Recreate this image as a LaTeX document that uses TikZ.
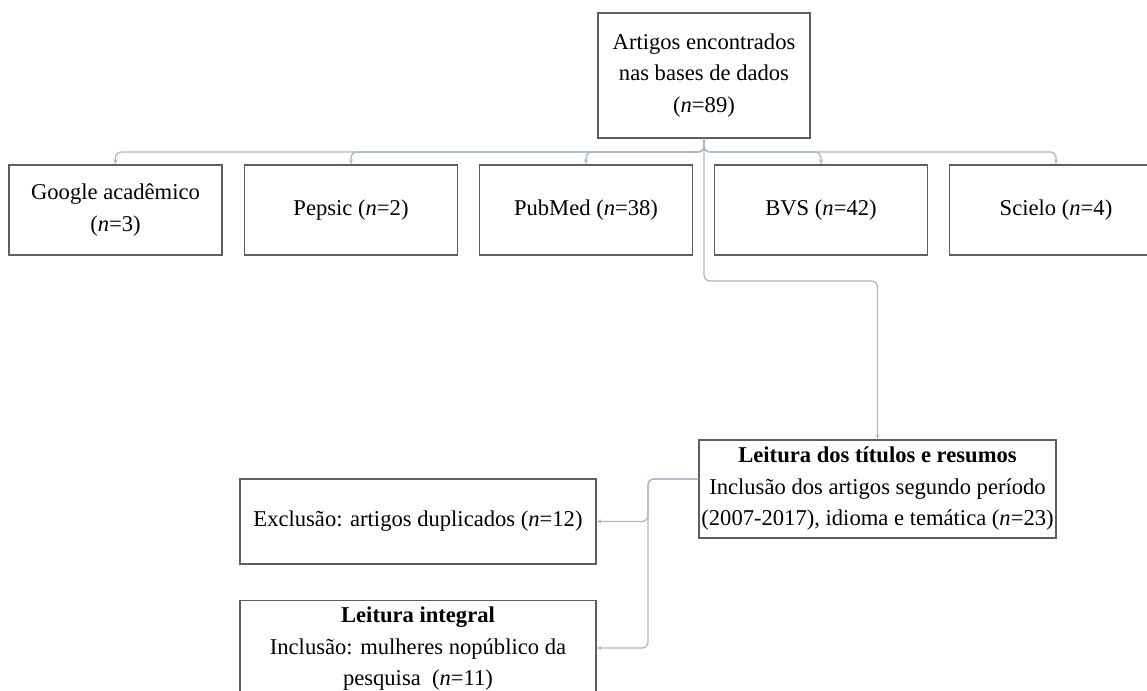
\documentclass[tikz,border=0pt]{standalone}
\usepackage{fontspec}
\setmainfont{Liberation Serif}
\usetikzlibrary{arrows.meta}
\definecolor{conncol}{HTML}{A9B9C9}
\definecolor{boxcol}{HTML}{5E5E5E}
\tikzset{
  box/.style={draw=boxcol, line width=1.4pt, rectangle, align=center, inner sep=0pt,
    font=\fontsize{22.6}{31.5}\selectfont},
  conn/.style={draw=conncol, line width=1.3pt, rounded corners=6pt,
    -{Stealth[length=5pt,width=4pt]}}
}
\begin{document}
\begin{tikzpicture}[x=1pt,y=-1pt]
\useasboundingbox (0,0) rectangle (1147,690);
\clip (0,0) rectangle (1147,690);
\fill[white] (0,0) rectangle (1147,690);
% top
\node[box, minimum width=212pt, minimum height=125pt] (top) at (704,75.5)
  {Artigos encontrados\\nas bases de dados\\(\textit{n}=89)};
% row
\node[box, minimum width=213pt, minimum height=90pt] (b1) at (115.5,210) {Google acadêmico\\(\textit{n}=3)};
\node[box, minimum width=213pt, minimum height=90pt] (b2) at (351,210) {Pepsic (\textit{n}=2)};
\node[box, minimum width=213pt, minimum height=90pt] (b3) at (586,210) {PubMed (\textit{n}=38)};
\node[box, minimum width=213pt, minimum height=90pt] (b4) at (821,210) {BVS (\textit{n}=42)};
\node[box, minimum width=213pt, minimum height=90pt] (b5) at (1056,210) {Scielo (\textit{n}=4)};
% leitura titulos
\node[box, minimum width=357pt, minimum height=98pt] (lt) at (877.5,489)
  {\textbf{Leitura dos títulos e resumos}\\Inclusão dos artigos segundo período\\(2007-2017), idioma e temática (\textit{n}=23)};
\node[box, minimum width=356pt, minimum height=85pt] (ex) at (418,521.5)
  {Exclusão: artigos duplicados (\textit{n}=12)};
\node[box, minimum width=356pt, minimum height=96pt, anchor=north] (li) at (418,600)
  {\textbf{Leitura integral}\\Inclusão: mulheres nopúblico da\\pesquisa\ \ (\textit{n}=11)};
% connectors
\coordinate (j) at (704,152);
\foreach \b in {b1,b2,b3,b4,b5}{
  \draw[conn] (top.south) -- (j) -| (\b.north);
}
\draw[conn] (top.south) -- (704,281) -| (lt.north);
\coordinate (k) at (648,479);
\draw[conn] (lt.west |- k) -- (k) |- (ex.east);
\draw[conn] (lt.west |- k) -- (k) |- (li.east |- 0,648);
\end{tikzpicture}
\end{document}
